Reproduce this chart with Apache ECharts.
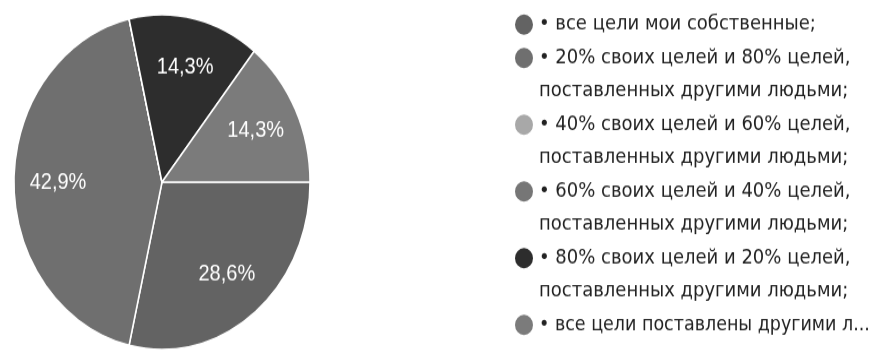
<!DOCTYPE html>
<html>
<head>
<meta charset="utf-8">
<script src="https://cdn.jsdelivr.net/npm/echarts@6/dist/echarts.min.js"></script>
<style>
  html, body { margin: 0; padding: 0; background: #fff; }
  #wrap { width: 873px; height: 354px; overflow: hidden; }
  #main { width: 873px; height: 313px; transform: scale(1, 1.131); transform-origin: 0 0; }
</style>
</head>
<body>
<div id="wrap"><div id="main"></div></div>
<script>
const categories = [
  '• все цели мои собственные;',
  '• 20% своих целей и 80% целей,\nпоставленных другими людьми;',
  '• 40% своих целей и 60% целей,\nпоставленных другими людьми;',
  '• 60% своих целей и 40% целей,\nпоставленных другими людьми;',
  '• 80% своих целей и 20% целей,\nпоставленных другими людьми;',
  '• все цели поставлены другими л...'
];
const values = [2, 3, 0, 0, 1, 1];
const colors = ['#636363', '#6f6f6f', '#a8a8a8', '#767676', '#2d2d2d', '#7b7b7b'];

const labelFont = '"Liberation Sans", Arial, sans-serif';
const legendFont = '"DejaVu Sans", sans-serif';
const LH = 29.5;
const data = categories.map((c, i) => ({ name: c, value: values[i], itemStyle: { color: colors[i] } }));
const labelData = categories.map((c, i) => ({ name: c, value: values[i] }));
const legendData = categories.map((c, i) => (
  i === categories.length - 1 ? { name: c, textStyle: { fontSize: 17.5 } } : { name: c }
));

const chart = echarts.init(document.getElementById('main'), null, { renderer: 'canvas' });
chart.setOption({
  animation: false,
  legend: {
    orient: 'vertical',
    left: 513,
    top: 7,
    height: 600,
    padding: 0,
    itemWidth: 20,
    itemHeight: 20,
    itemGap: -LH,
    icon: 'circle',
    selectedMode: false,
    data: legendData,
    formatter: function (name) {
      const i = categories.indexOf(name);
      const n = name.split('\n').length;
      if (n === 1 && i > 0) return '\n' + name + '\n';
      return '\n'.repeat(n - 1) + name;
    },
    textStyle: { fontFamily: legendFont, fontSize: 18, color: '#222', lineHeight: LH }
  },
  series: [
    {
      type: 'pie',
      center: [162, 161],
      radius: [0, 148],
      startAngle: 0,
      clockwise: true,
      silent: true,
      data: data,
      label: { show: false },
      labelLine: { show: false },
      itemStyle: { borderColor: '#fff', borderWidth: 1.5 },
      emphasis: { disabled: true }
    },
    {
      type: 'pie',
      center: [162, 161],
      radius: [54, 148],
      startAngle: 0,
      clockwise: true,
      silent: true,
      data: labelData,
      itemStyle: { color: 'rgba(0,0,0,0)' },
      label: {
        show: true,
        position: 'inner',
        color: '#fff',
        fontFamily: labelFont,
        fontSize: 20,
        formatter: function (p) {
          return p.value ? p.percent.toFixed(1).replace('.', ',') + '%' : '';
        }
      },
      labelLine: { show: false },
      emphasis: { disabled: true }
    }
  ]
});
</script>
</body>
</html>
